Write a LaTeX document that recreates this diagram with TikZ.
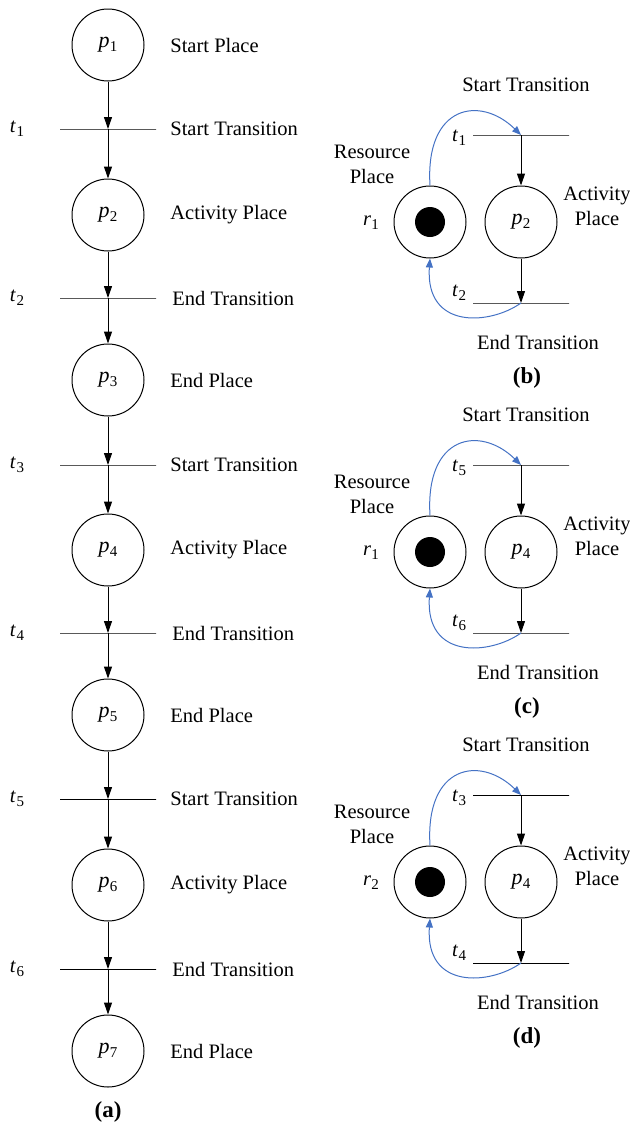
\documentclass[tikz,border=0pt]{standalone}
\usepackage{fontspec}
\setmainfont{Liberation Serif}
\usetikzlibrary{arrows.meta}
\definecolor{arcblue}{RGB}{68,114,196}
\newcommand\vsub[2]{\textit{#1}\kern0.2pt\raisebox{-0.4ex}{\fontsize{7.5}{8}\selectfont #2}}
\begin{document}
\begin{tikzpicture}[x=0.5pt,y=-0.5pt,
  font=\fontsize{10.25}{12.5}\selectfont,
  place/.style={circle,draw,line width=0.5pt,minimum size=36pt,inner sep=0pt,font=\fontsize{11}{12}\selectfont},
  token/.style={circle,fill=black,minimum size=15pt,inner sep=0pt},
  trans/.style={draw,line width=0.5pt,minimum width=48pt,minimum height=0pt,inner sep=0pt,outer sep=0pt},
  arr/.style={-{Triangle[length=6pt,width=4pt]},line width=0.5pt},
  barr/.style={-{Triangle[length=4.5pt,width=3.5pt]},arcblue,line width=0.5pt},
  lab/.style={anchor=west,inner sep=0pt},
  txt/.style={inner sep=0pt,align=center},
  capt/.style={inner sep=0pt,font=\fontsize{11.5}{13}\selectfont\bfseries}]
\path[use as bounding box] (0,0) rectangle (630,1125);
% ---------- (a) ----------
\node[place] (p1) at (108,45) {\vsub{p}{1}};
\node[place] (p2) at (108,215) {\vsub{p}{2}};
\node[place] (p3) at (108,380) {\vsub{p}{3}};
\node[place] (p4) at (108,550) {\vsub{p}{4}};
\node[place] (p5) at (108,715) {\vsub{p}{5}};
\node[place] (p6) at (108,885) {\vsub{p}{6}};
\node[place] (p7) at (108,1051) {\vsub{p}{7}};
\node[trans] (t1) at (108,129) {};
\node[trans] (t2) at (108,298) {};
\node[trans] (t3) at (108,465) {};
\node[trans] (t4) at (108,633) {};
\node[trans] (t5) at (108,799) {};
\node[trans] (t6) at (108,969) {};
\draw[arr] (p1) -- (t1);  \draw[arr] (t1) -- (p2);
\draw[arr] (p2) -- (t2);  \draw[arr] (t2) -- (p3);
\draw[arr] (p3) -- (t3);  \draw[arr] (t3) -- (p4);
\draw[arr] (p4) -- (t4);  \draw[arr] (t4) -- (p5);
\draw[arr] (p5) -- (t5);  \draw[arr] (t5) -- (p6);
\draw[arr] (p6) -- (t6);  \draw[arr] (t6) -- (p7);
\foreach \i/\y in {1/129,2/298,3/465,4/633,5/799,6/969}
  \node[txt] (lt\i) at (17,\y) {\vsub{t}{\i}};
\node[lab] (l1) at (170,45) {Start Place};
\node[lab] (l2) at (170,129) {Start Transition};
\node[lab] (l3) at (170,215) {Activity Place};
\node[lab] (l4) at (172,298) {End Transition};
\node[lab] (l5) at (170,380) {End Place};
\node[lab] (l6) at (170,465) {Start Transition};
\node[lab] (l7) at (170,550) {Activity Place};
\node[lab] (l8) at (172,633) {End Transition};
\node[lab] (l9) at (170,715) {End Place};
\node[lab] (l10) at (170,799) {Start Transition};
\node[lab] (l11) at (170,885) {Activity Place};
\node[lab] (l12) at (172,969) {End Transition};
\node[lab] (l13) at (170,1051) {End Place};
\node[capt] (capa) at (108,1112) {(a)};
% ---------- (b), (c), (d) ----------
\foreach \dy/\ta/\tb/\rr/\pp/\cc in {0/1/2/1/2/b,330/5/6/1/4/c,660/3/4/2/4/d}{
  \node[place] (r\cc) at (430,222+\dy) {};
  \node[token] (tok\cc) at (430,222+\dy) {};
  \node[place] (q\cc) at (521,222+\dy) {\vsub{p}{\pp}};
  \node[trans] (ta\cc) at (521,135+\dy) {};
  \node[trans] (tb\cc) at (521,303+\dy) {};
  \draw[arr] (ta\cc) -- (q\cc);
  \draw[arr] (q\cc) -- (tb\cc);
  \draw[barr] (r\cc.north) .. controls (425,105+\dy) and (480,95+\dy) .. (ta\cc);
  \draw[barr] (tb\cc) .. controls (490,325+\dy) and (425,330+\dy) .. (r\cc.south);
  \node[txt] (st\cc) at (526,85+\dy) {Start Transition};
  \node[txt] (et\cc) at (538,342+\dy) {End Transition};
  \node[txt] (lta\cc) at (459,138+\dy) {\vsub{t}{\ta}};
  \node[txt] (ltb\cc) at (459,293+\dy) {\vsub{t}{\tb}};
  \node[txt] (rp\cc) at (372,164+\dy) {Resource\\Place};
  \node[txt] (ap\cc) at (597,206+\dy) {Activity\\Place};
  \node[txt] (rl\cc) at (371,223+\dy) {\vsub{r}{\rr}};
  \node[capt] (cap\cc) at (527,378+\dy) {(\cc)};
}
\end{tikzpicture}
\end{document}
